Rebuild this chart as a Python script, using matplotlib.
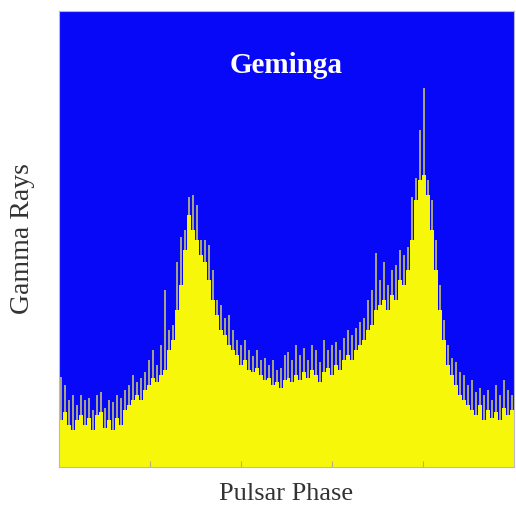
import numpy as np
import matplotlib.pyplot as plt

# gamma-ray counts per phase bin
# base = solid yellow level, peak = tips of the spiky bins
base = [47, 55, 42, 37, 47, 52, 42, 49, 37, 52, 55, 39, 47, 37, 49, 42, 57, 62, 67, 72,
        67, 77, 82, 89, 85, 92, 97, 117, 127, 157, 182, 217, 252, 237, 227, 212, 205, 187, 167, 152,
        137, 132, 122, 117, 112, 102, 107, 97, 95, 99, 92, 87, 89, 82, 85, 79, 87, 89, 85, 92,
        87, 95, 89, 97, 92, 85, 95, 99, 92, 102, 97, 107, 112, 107, 117, 122, 127, 137, 142, 157,
        162, 167, 157, 172, 167, 187, 182, 197, 227, 267, 287, 292, 272, 237, 197, 157, 127, 102, 92, 82,
        72, 67, 62, 57, 52, 62, 47, 57, 49, 55, 47, 59, 52, 57]
peak = [90, 82, 67, 72, 62, 72, 67, 69, 57, 72, 75, 59, 67, 65, 72, 69, 77, 82, 92, 85,
        89, 95, 107, 117, 102, 122, 177, 137, 142, 205, 230, 237, 270, 272, 262, 227, 227, 222, 197, 167,
        162, 149, 152, 137, 127, 122, 127, 117, 111, 117, 107, 109, 102, 107, 97, 99, 112, 115, 107, 122,
        112, 119, 107, 122, 117, 105, 127, 117, 122, 125, 117, 129, 137, 132, 139, 145, 149, 167, 177, 214,
        187, 205, 182, 197, 202, 217, 212, 220, 270, 289, 337, 379, 287, 267, 227, 182, 147, 122, 109, 105,
        95, 92, 82, 87, 75, 79, 72, 77, 67, 82, 72, 87, 77, 72]

edges = np.linspace(0, 1, len(base) + 1)
centers = 0.5 * (edges[:-1] + edges[1:])
bw = edges[1] - edges[0]

fig = plt.figure(figsize=(5.16, 5.08), dpi=100)
ax = fig.add_axes([59 / 516, 41 / 508, 455 / 516, 456 / 508])
ax.set_facecolor('#0808f8')

# thin grey spikes, then the yellow body over them
ax.bar(centers, peak, width=bw * 0.5, color='#a3a286', linewidth=0)
ax.stairs(base, edges, fill=True, color='#f7f70a', linewidth=0)

ax.set_xlim(0, 1)
ax.set_ylim(0, 456)
ax.set_xticks([0.2, 0.4, 0.6, 0.8])
ax.set_xticklabels([])
ax.set_yticks([])
ax.tick_params(axis='x', direction='in', length=4, color='#b0b080')
for s in ax.spines.values():
    s.set_color('#b8b8c8')
    s.set_linewidth(0.8)

ax.text(0.5, 0.88, 'Geminga', transform=ax.transAxes, ha='center', va='center',
        color='white', fontsize=21, fontweight='bold', family='Liberation Serif')
ax.set_xlabel('Pulsar Phase', fontsize=19, family='Liberation Serif', color='#333333', labelpad=8)
ax.set_ylabel('Gamma Rays', fontsize=20, family='Liberation Serif', color='#333333', labelpad=17)

fig.savefig('out.png', dpi=100)
